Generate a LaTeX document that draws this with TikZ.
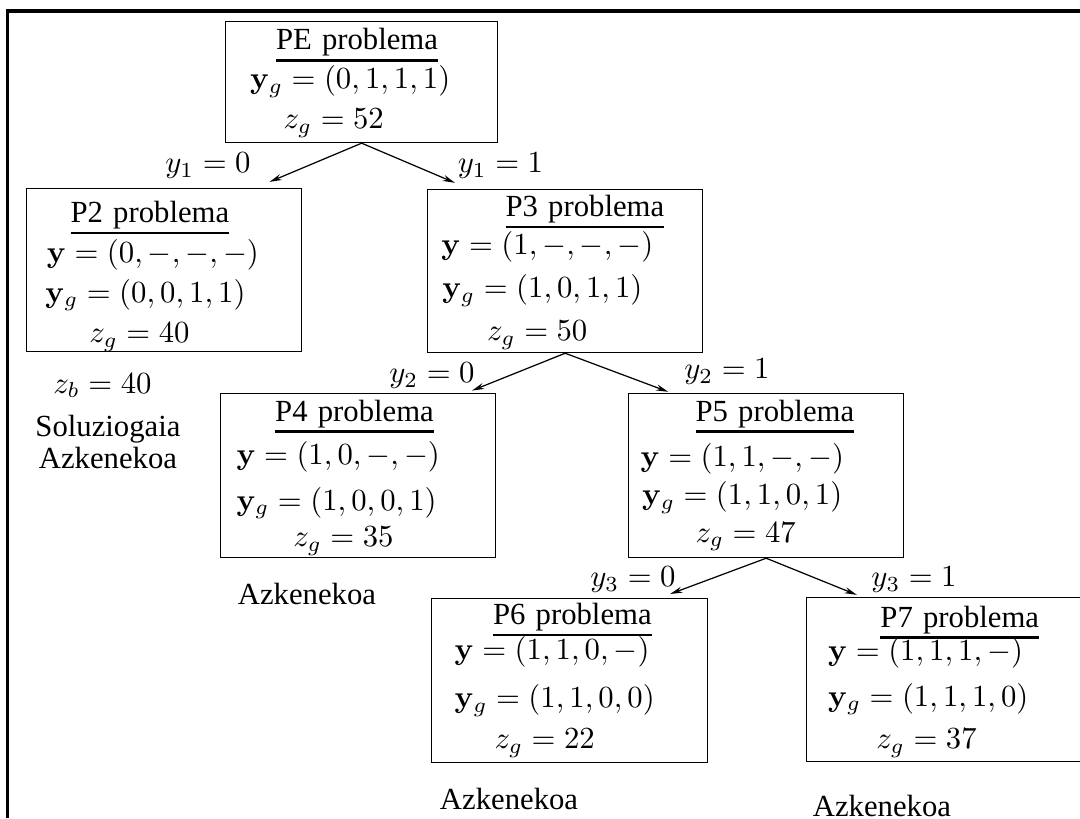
\documentclass[tikz,border=0pt]{standalone}
\usepackage{amsmath,amssymb}
\usepackage[no-math]{fontspec}
\setmainfont{Liberation Serif}
\usepackage{tikz}
\usetikzlibrary{arrows.meta}
\newsavebox{\titbox}
\newcommand{\ptitle}[1]{\sbox{\titbox}{#1}\rlap{\vrule width\wd\titbox height -2.9pt depth 3.8pt}\usebox{\titbox}}

\begin{document}
\begin{tikzpicture}[prob/.style={draw, thin, anchor=north west, align=left, inner xsep=0pt, inner ysep=0pt},
  arr/.style={thin, -{Stealth[open,length=4pt,width=2pt]}},
  lbl/.style={inner sep=0pt, anchor=base}]
\useasboundingbox (0,0) rectangle (12.363,-9.364);
\draw[line width=1pt] (0.086,-9.364) -- (0.086,-0.126) -- (12.363,-0.126);

\node[prob, text width=88.6pt] (pe) at (2.576,-0.240) {\hspace*{16.4pt}\rule{0pt}{9.2pt}\ptitle{PE problema}\\[0.7pt]
\hspace*{8pt}$\mathbf{y}_g=(0,1,1,1)$\\[1pt]
\hspace*{18.9pt}$z_g=52$\rule[-4.5pt]{0pt}{0pt}};

\node[prob, text width=89.6pt] (p2) at (0.295,-2.152) {\hspace*{14.4pt}\rule{0pt}{11.1pt}\ptitle{P2 problema}\\[0.9pt]
\hspace*{6.7pt}$\mathbf{y}=(0,-,-,-)$\\[1pt]
\hspace*{6.2pt}$\mathbf{y}_g=(0,0,1,1)$\\[1.1pt]
\hspace*{20.5pt}$z_g=40$\rule[-3pt]{0pt}{0pt}};

\node[prob, text width=89.6pt] (p3) at (4.888,-2.163) {\hspace*{25.4pt}\rule{0pt}{8.8pt}\ptitle{P3 problema}\\[0.4pt]
\hspace*{4.5pt}$\mathbf{y}=(1,-,-,-)$\\[2pt]
\hspace*{4.8pt}$\mathbf{y}_g=(1,0,1,1)$\\[2pt]
\hspace*{19.4pt}$z_g=50$\rule[-3.9pt]{0pt}{0pt}};

\node[prob, text width=89.6pt] (p4) at (2.518,-4.499) {\hspace*{17.8pt}\rule{0pt}{9pt}\ptitle{P4 problema}\\[2.1pt]
\hspace*{5.2pt}$\mathbf{y}=(1,0,-,-)$\\[2.8pt]
\hspace*{5.2pt}$\mathbf{y}_g=(1,0,0,1)$\\[-0.1pt]
\hspace*{23.7pt}$z_g=35$\rule[-3.6pt]{0pt}{0pt}};

\node[prob, text width=89.6pt] (p5) at (7.189,-4.499) {\hspace*{21.8pt}\rule{0pt}{9pt}\ptitle{P5 problema}\\[2.7pt]
\hspace*{3.9pt}$\mathbf{y}=(1,1,-,-)$\\[0.5pt]
\hspace*{4.4pt}$\mathbf{y}_g=(1,1,0,1)$\\[0.2pt]
\hspace*{21.8pt}$z_g=47$\rule[-5pt]{0pt}{0pt}};

\node[prob, text width=89.9pt] (p6) at (4.934,-6.845) {\hspace*{20pt}\rule{0pt}{8.5pt}\ptitle{P6 problema}\\[-0.6pt]
\hspace*{7.5pt}$\mathbf{y}=(1,1,0,-)$\\[3.6pt]
\hspace*{7.5pt}$\mathbf{y}_g=(1,1,0,0)$\\[1.4pt]
\hspace*{20.5pt}$z_g=22$\rule[-4.5pt]{0pt}{0pt}};

\node[prob, text width=89.6pt] (p7) at (9.221,-6.834) {\hspace*{24.2pt}\rule{0pt}{9.7pt}\ptitle{P7 problema}\\[-1.2pt]
\hspace*{7.2pt}$\mathbf{y}=(1,1,1,-)$\\[2.9pt]
\hspace*{7.2pt}$\mathbf{y}_g=(1,1,1,0)$\\[1.8pt]
\hspace*{22.9pt}$z_g=37$\rule[-4.2pt]{0pt}{0pt}};

\draw[arr] (pe.south) -- ([shift={(-10.6pt,2pt)}]p2.north east);
\draw[arr] (pe.south) -- ([shift={(9.1pt,2pt)}]p3.north west);
\draw[arr] (p3.south) -- ([shift={(-7.9pt,0.8pt)}]p4.north east);
\draw[arr] (p3.south) -- ([shift={(13.1pt,0.4pt)}]p5.north west);
\draw[arr] (p5.south) -- ([shift={(-12.4pt,1.3pt)}]p6.north east);
\draw[arr] (p5.south) -- ([shift={(16.7pt,0.7pt)}]p7.north west);

\node[lbl] (y1a) at (2.381,-1.980) {$y_1=0$};
\node[lbl] (y1b) at (5.729,-1.980) {$y_1=1$};
\node[lbl] (y2a) at (4.945,-4.384) {$y_2=0$};
\node[lbl] (y2b) at (8.322,-4.338) {$y_2=1$};
\node[lbl] (y3a) at (7.246,-6.719) {$y_3=0$};
\node[lbl] (y3b) at (10.463,-6.719) {$y_3=1$};

\node[lbl] (zb) at (1.173,-4.499) {$z_b=40$};
\node[inner sep=0pt, align=center] (sol) at (1.236,-5.060) {Soluziogaia\\[-1.3pt]Azkenekoa};
\node[lbl] (az4) at (3.514,-6.925) {Azkenekoa};
\node[lbl] (az6) at (5.827,-9.272) {Azkenekoa};
\node[lbl] (az7) at (10.096,-9.341) {Azkenekoa};
\end{tikzpicture}
\end{document}
